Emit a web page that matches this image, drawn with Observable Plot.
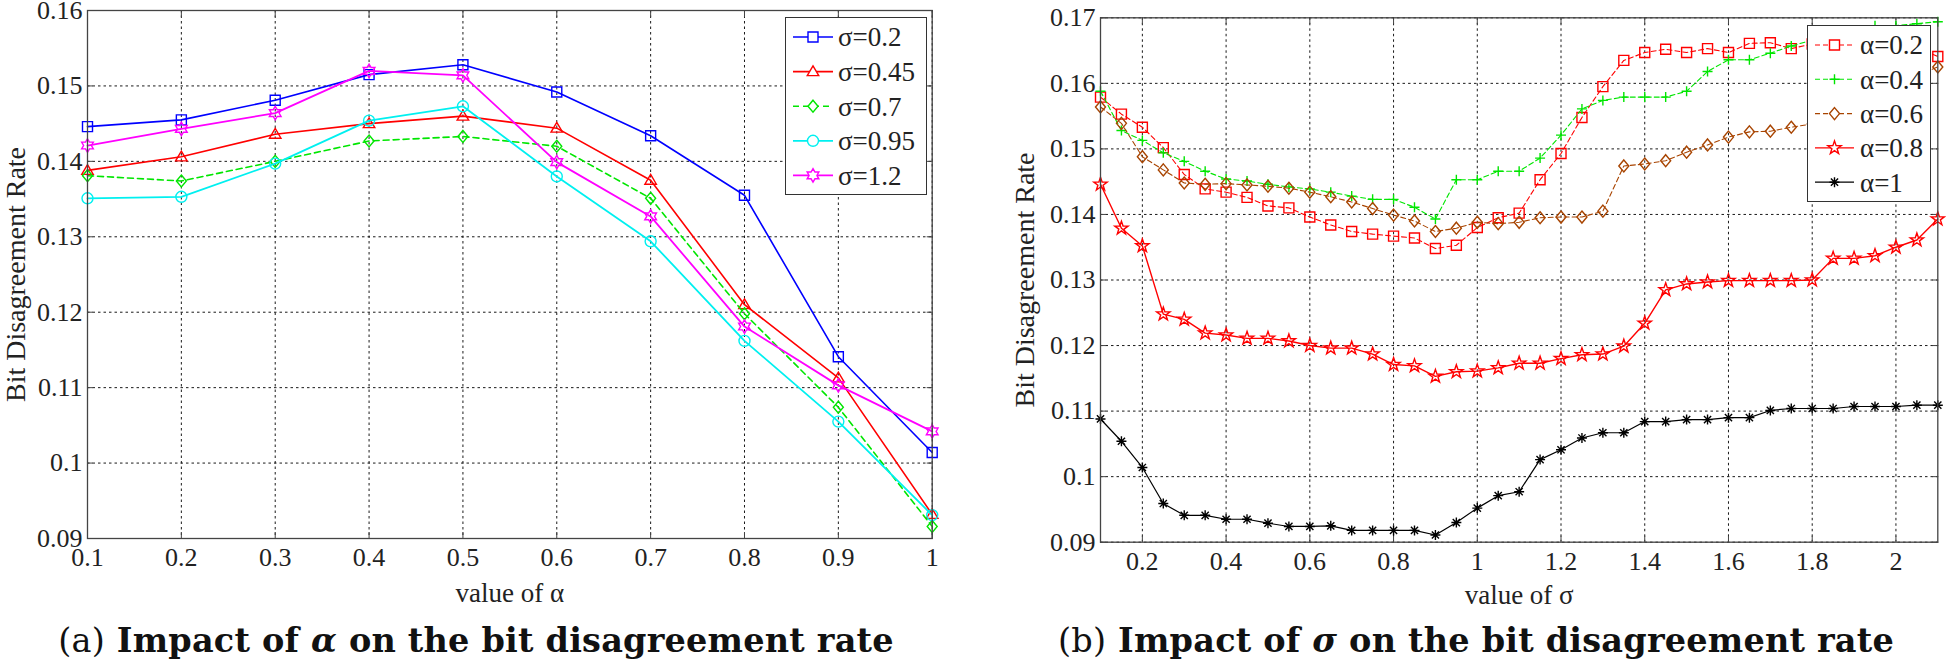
<!DOCTYPE html>
<html><head><meta charset="utf-8">
<script src="https://cdn.jsdelivr.net/npm/d3@7"></script>
<script src="https://cdn.jsdelivr.net/npm/@observablehq/plot@0.6"></script>
<style>
body{margin:0;background:#fff;}
#wrap{position:relative;width:1946px;height:661px;overflow:hidden;font-family:"Liberation Serif",serif;color:#222;}
#wrap svg.chart{position:absolute;top:0;overflow:visible;}
.legend{position:absolute;background:#fff;border:1.5px solid #333;box-sizing:border-box;}
.caption{position:absolute;font-family:"DejaVu Serif",serif;font-weight:bold;white-space:nowrap;transform:translate(-50%,-50%);font-size:33.5px;letter-spacing:0.2px;color:#111;}
.caption .n{font-weight:normal;}
</style></head><body><div id="wrap"></div>
<script>
// ---------- data: panel (a) ----------
const alphaValues = [0.1, 0.2, 0.3, 0.4, 0.5, 0.6, 0.7, 0.8, 0.9, 1.0];
const sigma02  = [0.1446, 0.1455, 0.1481, 0.1515, 0.1528, 0.1492, 0.1434, 0.1355, 0.1141, 0.1014];
const sigma045 = [0.1388, 0.1406, 0.1436, 0.1450, 0.1460, 0.1444, 0.1375, 0.1210, 0.1113, 0.0932];
const sigma07  = [0.1381, 0.1374, 0.1400, 0.1427, 0.1433, 0.1420, 0.1351, 0.1198, 0.1074, 0.0916];
const sigma095 = [0.1351, 0.1353, 0.1397, 0.1454, 0.1473, 0.1380, 0.1294, 0.1162, 0.1055, 0.0931];
const sigma12  = [0.1421, 0.1443, 0.1464, 0.1520, 0.1514, 0.1399, 0.1327, 0.1181, 0.1103, 0.1042];
const leftNames = ["σ=0.2", "σ=0.45", "σ=0.7", "σ=0.95", "σ=1.2"];
const leftXTicks = [0.1, 0.2, 0.3, 0.4, 0.5, 0.6, 0.7, 0.8, 0.9, 1.0];
const leftXTickLabels = ["0.1", "0.2", "0.3", "0.4", "0.5", "0.6", "0.7", "0.8", "0.9", "1"];
const leftYTicks = [0.09, 0.10, 0.11, 0.12, 0.13, 0.14, 0.15, 0.16];
const leftYTickLabels = ["0.09", "0.1", "0.11", "0.12", "0.13", "0.14", "0.15", "0.16"];

// ---------- data: panel (b) ----------
const sigmaValues = [0.1, 0.15, 0.2, 0.25, 0.3, 0.35, 0.4, 0.45, 0.5, 0.55, 0.6, 0.65, 0.7, 0.75, 0.8, 0.85, 0.9, 0.95, 1.0, 1.05, 1.1, 1.15, 1.2, 1.25, 1.3, 1.35, 1.4, 1.45, 1.5, 1.55, 1.6, 1.65, 1.7, 1.75, 1.8, 1.85, 1.9, 1.95, 2.0, 2.05, 2.1];
const alpha02 = [0.1579, 0.1553, 0.1533, 0.1502, 0.1461, 0.1439, 0.1434, 0.1426, 0.1413, 0.1410, 0.1396, 0.1384, 0.1374, 0.1370, 0.1367, 0.1364, 0.1348, 0.1353, 0.1380, 0.1395, 0.1402, 0.1453, 0.1493, 0.1548, 0.1595, 0.1635, 0.1647, 0.1652, 0.1647, 0.1653, 0.1647, 0.1661, 0.1662, 0.1653, 0.1660, 0.1662, 0.1665, 0.1665, 0.1662, 0.1655, 0.1641];
const alpha04 = [0.1588, 0.1528, 0.1513, 0.1494, 0.1481, 0.1466, 0.1454, 0.1451, 0.1446, 0.1442, 0.1439, 0.1434, 0.1428, 0.1423, 0.1423, 0.1411, 0.1393, 0.1453, 0.1453, 0.1466, 0.1466, 0.1486, 0.1521, 0.1561, 0.1574, 0.1579, 0.1579, 0.1579, 0.1588, 0.1618, 0.1636, 0.1636, 0.1646, 0.1657, 0.1666, 0.1672, 0.1680, 0.1688, 0.1688, 0.1691, 0.1694];
const alpha06 = [0.1564, 0.1539, 0.1488, 0.1468, 0.1448, 0.1446, 0.1447, 0.1445, 0.1443, 0.1440, 0.1434, 0.1427, 0.1419, 0.1409, 0.1399, 0.1390, 0.1374, 0.1379, 0.1388, 0.1386, 0.1388, 0.1395, 0.1396, 0.1396, 0.1405, 0.1474, 0.1477, 0.1482, 0.1495, 0.1506, 0.1518, 0.1526, 0.1527, 0.1533, 0.1538, 0.1550, 0.1565, 0.1585, 0.1600, 0.1612, 0.1625];
const alpha08 = [0.1446, 0.1379, 0.1352, 0.1248, 0.1240, 0.1219, 0.1216, 0.1211, 0.1211, 0.1207, 0.1200, 0.1196, 0.1196, 0.1187, 0.1171, 0.1169, 0.1153, 0.1160, 0.1161, 0.1166, 0.1173, 0.1173, 0.1180, 0.1186, 0.1187, 0.1199, 0.1234, 0.1285, 0.1294, 0.1297, 0.1299, 0.1299, 0.1299, 0.1299, 0.1300, 0.1333, 0.1333, 0.1337, 0.1350, 0.1361, 0.1393];
const alpha1  = [0.1088, 0.1054, 0.1014, 0.0959, 0.0941, 0.0941, 0.0935, 0.0935, 0.0929, 0.0924, 0.0924, 0.0925, 0.0918, 0.0918, 0.0918, 0.0918, 0.0911, 0.0930, 0.0952, 0.0971, 0.0977, 0.1026, 0.1041, 0.1059, 0.1067, 0.1067, 0.1084, 0.1084, 0.1087, 0.1087, 0.1090, 0.1090, 0.1101, 0.1104, 0.1104, 0.1104, 0.1107, 0.1107, 0.1107, 0.1109, 0.1109];
const rightNames = ["α=0.2", "α=0.4", "α=0.6", "α=0.8", "α=1"];
const rightXTicks = [0.2, 0.4, 0.6, 0.8, 1.0, 1.2, 1.4, 1.6, 1.8, 2.0];
const rightXTickLabels = ["0.2", "0.4", "0.6", "0.8", "1", "1.2", "1.4", "1.6", "1.8", "2"];
const rightYTicks = [0.09, 0.10, 0.11, 0.12, 0.13, 0.14, 0.15, 0.16, 0.17];
const rightYTickLabels = ["0.09", "0.1", "0.11", "0.12", "0.13", "0.14", "0.15", "0.16", "0.17"];

// ---------- marker shapes (MATLAB-like) ----------
const rad = s => Math.sqrt(s / Math.PI);
const poly = (ctx, pts) => { pts.forEach(([x, y], i) => i ? ctx.lineTo(x, y) : ctx.moveTo(x, y)); ctx.closePath(); };
const star = (n, outer, inner) => ({draw(ctx, s) { const r = rad(s); const pts = [];
  for (let i = 0; i < 2 * n; i++) { const a = -Math.PI / 2 + i * Math.PI / n; const q = (i % 2 ? inner : outer) * r; pts.push([q * Math.cos(a), q * Math.sin(a)]); }
  poly(ctx, pts); }});
const mSquare = {draw(ctx, s) { const r = rad(s); poly(ctx, [[-r, -r], [r, -r], [r, r], [-r, r]]); }};
const mTriangle = {draw(ctx, s) { const r = rad(s); poly(ctx, [[0, -1.15 * r], [1.15 * r, 0.8 * r], [-1.15 * r, 0.8 * r]]); }};
const mDiamond = {draw(ctx, s) { const r = rad(s); poly(ctx, [[0, -1.2 * r], [r, 0], [0, 1.2 * r], [-r, 0]]); }};
const mCircle = {draw(ctx, s) { const r = rad(s) * 1.1; ctx.moveTo(r, 0); ctx.arc(0, 0, r, 0, 2 * Math.PI); }};
const mHexagram = star(6, 1.35, 1.35 / Math.sqrt(3));
const mPentagram = star(5, 1.4, 0.55);
const mPlus = {draw(ctx, s) { const r = rad(s); ctx.moveTo(-r, 0); ctx.lineTo(r, 0); ctx.moveTo(0, -r); ctx.lineTo(0, r); }};
const mAsterisk = {draw(ctx, s) { const r = rad(s); const d = r * 0.72;
  ctx.moveTo(-r, 0); ctx.lineTo(r, 0); ctx.moveTo(0, -r); ctx.lineTo(0, r);
  ctx.moveTo(-d, -d); ctx.lineTo(d, d); ctx.moveTo(-d, d); ctx.lineTo(d, -d); }};

const leftSeries = [
  {name: leftNames[0], values: sigma02,  color: "#0000ff", symbol: mSquare,   dash: null,  width: 1.6},
  {name: leftNames[1], values: sigma045, color: "#ff0000", symbol: mTriangle, dash: null,  width: 1.6},
  {name: leftNames[2], values: sigma07,  color: "#00e600", symbol: mDiamond,  dash: "6,4", width: 1.6},
  {name: leftNames[3], values: sigma095, color: "#00f0f0", symbol: mCircle,   dash: null,  width: 1.8},
  {name: leftNames[4], values: sigma12,  color: "#ff00ff", symbol: mHexagram, dash: null,  width: 1.8}
];
const rightSeries = [
  {name: rightNames[0], values: alpha02, color: "#ff0000", symbol: mSquare,    dash: "5,3", width: 1.1},
  {name: rightNames[1], values: alpha04, color: "#00e600", symbol: mPlus,      dash: "5,3", width: 1.1},
  {name: rightNames[2], values: alpha06, color: "#a84400", symbol: mDiamond,   dash: "5,3", width: 1.1},
  {name: rightNames[3], values: alpha08, color: "#ff0000", symbol: mPentagram, dash: null,  width: 1.4},
  {name: rightNames[4], values: alpha1,  color: "#000000", symbol: mAsterisk,  dash: null,  width: 1.2}
];

const SERIF = "'Liberation Serif', 'Times New Roman', serif";
const Y_TITLE = "Bit Disagreement Rate";

function makeChart(o) {
  const blank = () => "";
  const marks = [
    Plot.gridX(o.xTicks, {stroke: "#000", strokeOpacity: 0.9, strokeDasharray: "2.5,3", strokeWidth: 1}),
    Plot.gridY(o.yTicks, {stroke: "#000", strokeOpacity: 0.9, strokeDasharray: "2.5,3", strokeWidth: 1}),
    // inward tick marks on all four sides
    Plot.axisX(o.xTicks, {anchor: "bottom", tickSize: 6, dy: -6, tickFormat: blank, label: null, stroke: "#444"}),
    Plot.axisX(o.xTicks, {anchor: "top", tickSize: 6, dy: 6, tickFormat: blank, label: null, stroke: "#444"}),
    Plot.axisY(o.yTicks, {anchor: "left", tickSize: 6, dx: 6, tickFormat: blank, label: null, stroke: "#444"}),
    Plot.axisY(o.yTicks, {anchor: "right", tickSize: 6, dx: -6, tickFormat: blank, label: null, stroke: "#444"}),
    // labelled axes
    Plot.axisX(o.xTicks, {anchor: "bottom", tickSize: 0, tickPadding: o.xPad, tickFormat: d => o.xLabels[o.xTicks.indexOf(d)],
      label: o.xTitle, labelAnchor: "center", labelArrow: "none", labelOffset: o.xLabelOffset,
      fontFamily: SERIF, fontSize: 26}),
    Plot.axisY(o.yTicks, {anchor: "left", tickSize: 0, tickPadding: 5, tickFormat: d => o.yLabels[o.yTicks.indexOf(d)],
      label: Y_TITLE, labelAnchor: "center", labelArrow: "none", labelOffset: o.yLabelOffset,
      fontFamily: SERIF, fontSize: 26})
  ];
  for (const s of o.series) {
    const rows = o.xs.map((x, i) => ({x, y: s.values[i]}));
    marks.push(Plot.line(rows, {x: "x", y: "y", stroke: s.color, strokeWidth: s.width, strokeDasharray: s.dash}));
    marks.push(Plot.dot(rows, {x: "x", y: "y", symbol: s.symbol, r: o.r, stroke: s.color, fill: "none", strokeWidth: 1.4}));
  }
  marks.push(Plot.frame({stroke: "#444", strokeWidth: 1.3}));
  const svg = Plot.plot({
    width: o.width, height: 600,
    marginLeft: o.ml, marginRight: o.mr, marginTop: o.mt, marginBottom: 600 - o.bottom,
    style: {fontFamily: SERIF, fontSize: "26px", color: "#222", overflow: "visible", background: "transparent"},
    x: {domain: o.xDomain}, y: {domain: o.yDomain},
    marks
  });
  // axis titles are a little larger than tick labels in the reference
  svg.querySelectorAll("text").forEach(t => {
    if (t.textContent === Y_TITLE) t.style.fontSize = "28px";
    if (t.textContent === o.xTitle) t.style.fontSize = "27px";
  });
  return svg;
}

function makeLegend(series, box, r) {
  const div = document.createElement("div");
  div.className = "legend";
  Object.assign(div.style, {left: box.left + "px", top: box.top + "px", width: box.w + "px", height: box.h + "px"});
  const svg = d3.create("svg").attr("width", box.w).attr("height", box.h).style("position", "absolute").style("left", "-1.5px").style("top", "-1.5px");
  series.forEach((s, i) => {
    const y = box.y0 + i * box.dy;
    svg.append("line").attr("x1", box.lx0).attr("x2", box.lx1).attr("y1", y).attr("y2", y)
      .attr("stroke", s.color).attr("stroke-width", s.width).attr("stroke-dasharray", s.dash);
    svg.append("path").attr("d", d3.symbol(s.symbol, Math.PI * r * r)()).attr("transform", `translate(${(box.lx0 + box.lx1) / 2},${y})`)
      .attr("stroke", s.color).attr("fill", "#fff").attr("stroke-width", 1.4);
    svg.append("text").attr("x", box.tx).attr("y", y).attr("dy", "0.35em").text(s.name)
      .style("font-family", SERIF).style("font-size", "27px").attr("fill", "#222");
  });
  div.appendChild(svg.node());
  return div;
}

const wrap = document.getElementById("wrap");

const left = makeChart({
  series: leftSeries, xs: alphaValues, width: 960, ml: 87, mr: 28.3, mt: 10, bottom: 538, r: 5,
  xDomain: [0.1, 1], yDomain: [0.09, 0.16], xTicks: leftXTicks, xLabels: leftXTickLabels,
  yTicks: leftYTicks, yLabels: leftYTickLabels, xTitle: "value of α", xPad: 9, xLabelOffset: 63, yLabelOffset: 82
});
left.classList.add("chart"); left.style.left = "0px";
wrap.appendChild(left);

const rightChart = makeChart({
  series: rightSeries, xs: sigmaValues, width: 973, ml: 127, mr: 8.7, mt: 17.3, bottom: 541.7, r: 5,
  xDomain: [0.1, 2.1], yDomain: [0.09, 0.17], xTicks: rightXTicks, xLabels: rightXTickLabels,
  yTicks: rightYTicks, yLabels: rightYTickLabels, xTitle: "value of σ", xPad: 9, xLabelOffset: 62, yLabelOffset: 86
});
rightChart.classList.add("chart"); rightChart.style.left = "973px";
wrap.appendChild(rightChart);

wrap.appendChild(makeLegend(leftSeries, {left: 785, top: 17, w: 142, h: 178, y0: 20, dy: 34.6, lx0: 8, lx1: 48, tx: 53}, 5));
wrap.appendChild(makeLegend(rightSeries, {left: 1807, top: 25, w: 124, h: 177, y0: 20, dy: 34.3, lx0: 8, lx1: 47, tx: 53}, 5));

const capA = document.createElement("div");
capA.className = "caption"; capA.style.left = "476px"; capA.style.top = "640px";
capA.innerHTML = "<span class='n'>(a)</span> Impact of <i>α</i> on the bit disagreement rate";
wrap.appendChild(capA);
const capB = document.createElement("div");
capB.className = "caption"; capB.style.left = "1476px"; capB.style.top = "640px";
capB.innerHTML = "<span class='n'>(b)</span> Impact of <i>σ</i> on the bit disagreement rate";
wrap.appendChild(capB);
</script></body></html>
